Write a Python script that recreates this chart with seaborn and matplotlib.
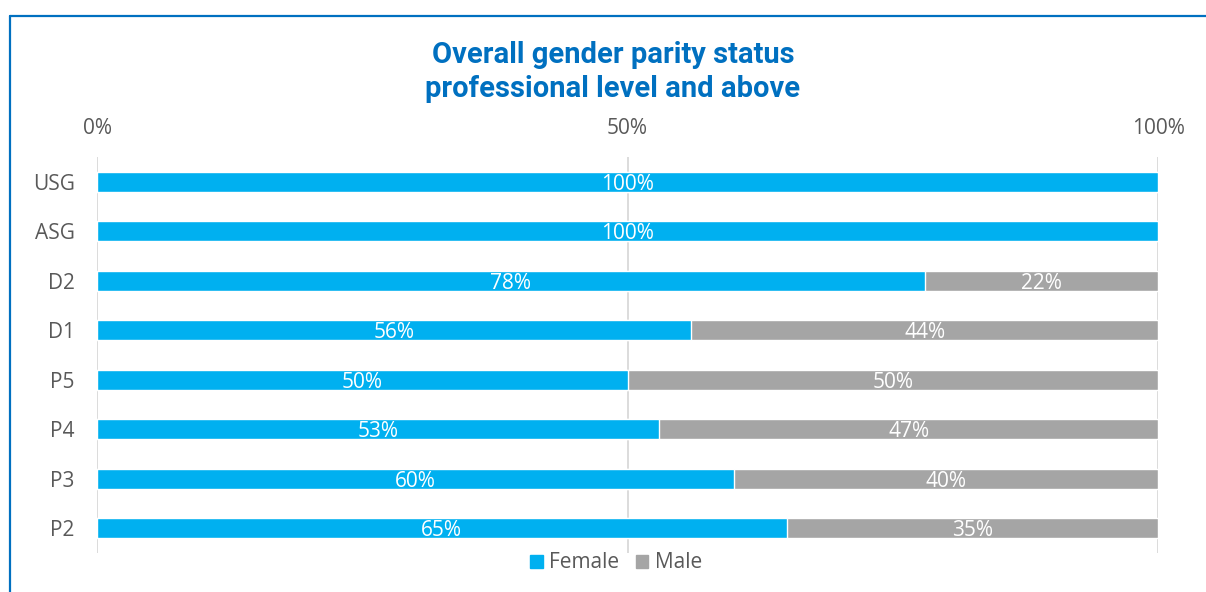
import seaborn as sns
import matplotlib.pyplot as plt
import pandas as pd
from matplotlib.lines import Line2D
from matplotlib.patches import Patch

# dane
grades = ["USG", "ASG", "D2", "D1", "P5", "P4", "P3", "P2"]
female = [100, 100, 78, 56, 50, 53, 60, 65]
male = [0, 0, 22, 44, 50, 47, 40, 35]

dane = pd.DataFrame({"grade": grades, "Female": female, "Male": male})
dane["total"] = dane["Female"] + dane["Male"]

kolor_k = "#00B0F0"
kolor_m = "#A5A5A5"
szary_tekst = "#595959"

sns.set_theme(style="white")
plt.rcParams["font.family"] = ["Open Sans", "DejaVu Sans"]

fig = plt.figure(figsize=(12.06, 5.92), dpi=100)
ax = fig.add_axes([97 / 1206, 1 - 553 / 592, (1158 - 97) / 1206, (553 - 157) / 592])

# pelny pasek (szary) a na nim kobiety (niebieski) -> wykres skumulowany
sns.barplot(data=dane, y="grade", x="total", color=kolor_m, orient="h",
            width=0.4, saturation=1, ax=ax)
sns.barplot(data=dane, y="grade", x="Female", color=kolor_k, orient="h",
            width=0.4, saturation=1, ax=ax)

for i, (f, m) in enumerate(zip(dane["Female"], dane["Male"])):
    if f > 0:
        ax.text(f / 2, i, f"{f}%", ha="center", va="center_baseline", color="white", fontsize=15)
    if m > 0:
        ax.text(f + m / 2, i, f"{m}%", ha="center", va="center_baseline", color="white", fontsize=15)

ax.set_xlim(0, 100)
ax.set_ylim(len(grades) - 0.5, -0.5)
ax.xaxis.tick_top()
ax.set_xticks([0, 50, 100])
ax.set_xticklabels(["0%", "50%", "100%"])
ax.tick_params(axis="x", length=0, pad=13, labelsize=15, labelcolor=szary_tekst)
ax.tick_params(axis="y", length=0, pad=16, labelsize=15, labelcolor=szary_tekst)
ax.set_xlabel("")
ax.set_ylabel("")
ax.grid(axis="x", color="#D9D9D9", linewidth=1.3)
ax.set_axisbelow(True)
for s in ax.spines.values():
    s.set_visible(False)

fig.text(613 / 1206, 1 - 72 / 592, "Overall gender parity status\nprofessional level and above",
         ha="center", va="center", fontsize=21, fontweight="bold", color="#0070C0",
         family=["Roboto", "DejaVu Sans"], linespacing=1.25)

uchwyty = [Patch(color=kolor_k, label="Female"), Patch(color=kolor_m, label="Male")]
fig.legend(handles=uchwyty, loc="center", bbox_to_anchor=(616 / 1206, 1 - 563 / 592),
           ncol=2, frameon=False, fontsize=15, handlelength=0.6, handleheight=0.6,
           handletextpad=0.3, columnspacing=0.8, labelcolor=szary_tekst)

# niebieska ramka (lewa i gorna krawedz)
fig.add_artist(Line2D([10 / 1206, 10 / 1206], [0, 1 - 16 / 592], color="#0070C0",
                      linewidth=1.6, transform=fig.transFigure))
fig.add_artist(Line2D([10 / 1206, 1], [1 - 16 / 592, 1 - 16 / 592], color="#0070C0",
                      linewidth=1.6, transform=fig.transFigure))

fig.savefig("out.png", dpi=100)
